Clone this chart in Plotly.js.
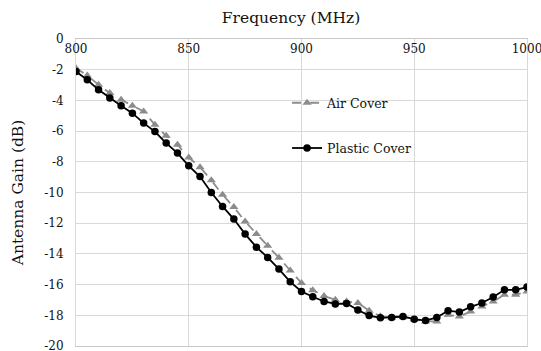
<!DOCTYPE html>
<html>
<head>
<meta charset="utf-8">
<script src="https://cdn.plot.ly/plotly-3.0.1.min.js"></script>
<style>html,body{margin:0;padding:0;background:#fff;}#chart{width:541px;height:351px;}</style>
</head>
<body>
<div id="chart"></div>
<script>
const frequency = [800,805,810,815,820,825,830,835,840,845,850,855,860,865,870,875,880,885,890,895,900,905,910,915,920,925,930,935,940,945,950,955,960,965,970,975,980,985,990,995,1000];
const airCover = [-1.90,-2.38,-2.98,-3.52,-3.96,-4.35,-4.72,-5.59,-6.31,-6.89,-7.72,-8.35,-9.20,-10.15,-10.95,-11.89,-12.71,-13.47,-14.25,-15.08,-15.90,-16.36,-16.75,-16.99,-17.10,-17.20,-17.70,-18.06,-18.14,-18.12,-18.25,-18.40,-18.40,-17.97,-18.08,-17.75,-17.42,-17.10,-16.66,-16.66,-16.45];
const plasticCover = [-2.12,-2.66,-3.31,-3.85,-4.35,-4.83,-5.48,-6.03,-6.78,-7.43,-8.26,-8.96,-10.00,-10.91,-11.73,-12.71,-13.56,-14.23,-14.99,-15.82,-16.45,-16.79,-17.10,-17.26,-17.23,-17.66,-18.02,-18.16,-18.14,-18.08,-18.25,-18.34,-18.14,-17.70,-17.79,-17.45,-17.20,-16.81,-16.34,-16.34,-16.16];
const xTickVals = [800,850,900,950,1000];
const yTickVals = [0,-2,-4,-6,-8,-10,-12,-14,-16,-18,-20];
const yTickText = ["0","-2","-4","-6","-8","-10","-12","-14","-16","-18","-20"];

const font = "DejaVu Serif";
const traces = [
  {x: frequency, y: airCover, name: "Air Cover", type: "scatter", mode: "lines+markers",
   legendgroup: "a",
   line: {color: "#8c8c8c", width: 1.8, dash: "dash"},
   marker: {symbol: "triangle-up", size: 8, color: "#8c8c8c"}},
  {x: frequency, y: plasticCover, name: "Plastic Cover", type: "scatter", mode: "lines+markers",
   legendgroup: "b",
   line: {color: "#000000", width: 1.8},
   marker: {symbol: "circle", size: 7.5, color: "#000000"}}
];
const layout = {
  width: 541, height: 351,
  margin: {l: 76, r: 14, t: 39, b: 5},
  paper_bgcolor: "#fff", plot_bgcolor: "#fff",
  font: {family: font, size: 12, color: "#111"},
  title: {text: "Frequency (MHz)", x: 0.538, xanchor: "center", y: 0.949, yanchor: "middle",
          font: {family: font, size: 15.5, color: "#111"}},
  showlegend: true,
  legend: {x: 0.468, y: 0.84, xanchor: "left", yanchor: "top", traceorder: "grouped", tracegroupgap: 26,
           bgcolor: "rgba(0,0,0,0)", font: {family: font, size: 12.5, color: "#111"}},
  xaxis: {side: "top", range: [800, 1000], tickvals: xTickVals, ticktext: xTickVals.map(String),
          ticklabelposition: "inside", ticklabeloverflow: "allow", ticklabelstandoff: 5,
          ticks: "",
          showgrid: true, gridcolor: "#d9d9d9", gridwidth: 1,
          showline: true, mirror: true, linecolor: "#c8c8c8", linewidth: 1, zeroline: false,
          tickfont: {family: font, size: 12, color: "#111"}},
  yaxis: {range: [-20, 0], tickvals: yTickVals, ticktext: yTickText, ticks: "",
          ticklabelstandoff: 9, ticklabeloverflow: "allow",
          showgrid: true, gridcolor: "#d9d9d9", gridwidth: 1, zeroline: false,
          showline: true, mirror: true, linecolor: "#d9d9d9",
          title: {text: "Antenna Gain (dB)", font: {family: font, size: 15.5, color: "#111"}, standoff: 16},
          tickfont: {family: font, size: 12, color: "#111"}}
};
Plotly.newPlot("chart", traces, layout, {staticPlot: true, displayModeBar: false});
</script>
</body>
</html>
